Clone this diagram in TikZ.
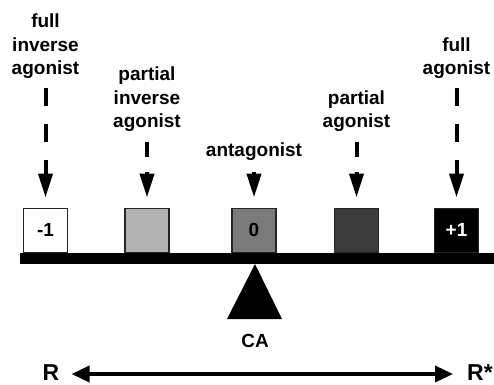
\documentclass[tikz,border=0pt]{standalone}
\usepackage{fontspec}
\setmainfont{Liberation Sans}
\usepackage{tikz}
\usetikzlibrary{arrows.meta,positioning}

\begin{document}
\begin{tikzpicture}[x=1pt, y=-1pt,
  lbl/.style={font=\fontsize{19}{23.5}\selectfont\bfseries, align=center, anchor=south, inner sep=0pt},
  weight/.style={draw=black!85, line width=1.5pt, minimum size=44pt, inner sep=0pt, anchor=south, font=\fontsize{19}{23}\selectfont\bfseries},
  pointer/.style={line width=4pt, -{Triangle[length=24pt, width=14pt]}, shorten >=10pt},
  ends/.style={font=\fontsize{23}{26}\selectfont\bfseries, anchor=base, inner sep=0pt}
]
\useasboundingbox (0,0) rectangle (494,384);

% Ligand labels
\node[lbl] (lfia) at (45.5,79) {full\\inverse\\agonist};
\node[lbl] (lpia) at (147,132) {partial\\inverse\\agonist};
\node[lbl] (lant) at (254,161) {antagonist};
\node[lbl] (lpa) at (356.5,132) {partial\\agonist};
\node[lbl] (lfa) at (456.5,79) {full\\agonist};

% Weights on the beam
\node[weight, fill=white] (bfia) at (45.5,253) {-1};
\node[weight, fill=black!30] (bpia) at (147,253) {};
\node[weight, fill=black!52] (bant) at (254,253) {0};
\node[weight, fill=black!77] (bpa) at (356.5,253) {};
\node[weight, fill=black, text=white] (bfa) at (456.5,253) {+1};

% Pointers
\draw[pointer, dash pattern=on 18pt off 18pt, shorten <=9pt] (lfia) -- (bfia);
\draw[pointer, dash pattern=on 15pt off 15pt, shorten <=10pt] (lpia) -- (bpia);
\draw[pointer, shorten <=11pt] (lant) -- (bant);
\draw[pointer, dash pattern=on 15pt off 15pt, shorten <=10pt] (lpa) -- (bpa);
\draw[pointer, dash pattern=on 18pt off 18pt, shorten <=9pt] (lfa) -- (bfa);

% Beam and fulcrum
\fill (20,253) rectangle (494,264);
\fill (255,264) -- (227,319) -- (282,319) -- cycle;
\node[font=\fontsize{19}{23}\selectfont\bfseries, anchor=base, inner sep=0pt] (ca) at (255,347) {CA};

% Receptor states
\node[ends] (r) at (51,380) {R};
\node[ends] (rs) at (480,380) {R*};
\draw[line width=3.5pt, {Triangle[length=18pt, width=16pt]}-{Triangle[length=18pt, width=16pt]}, shorten <=12pt, shorten >=14pt] (r.east |- 0,374) -- (rs.west |- 0,374);

\end{tikzpicture}
\end{document}
